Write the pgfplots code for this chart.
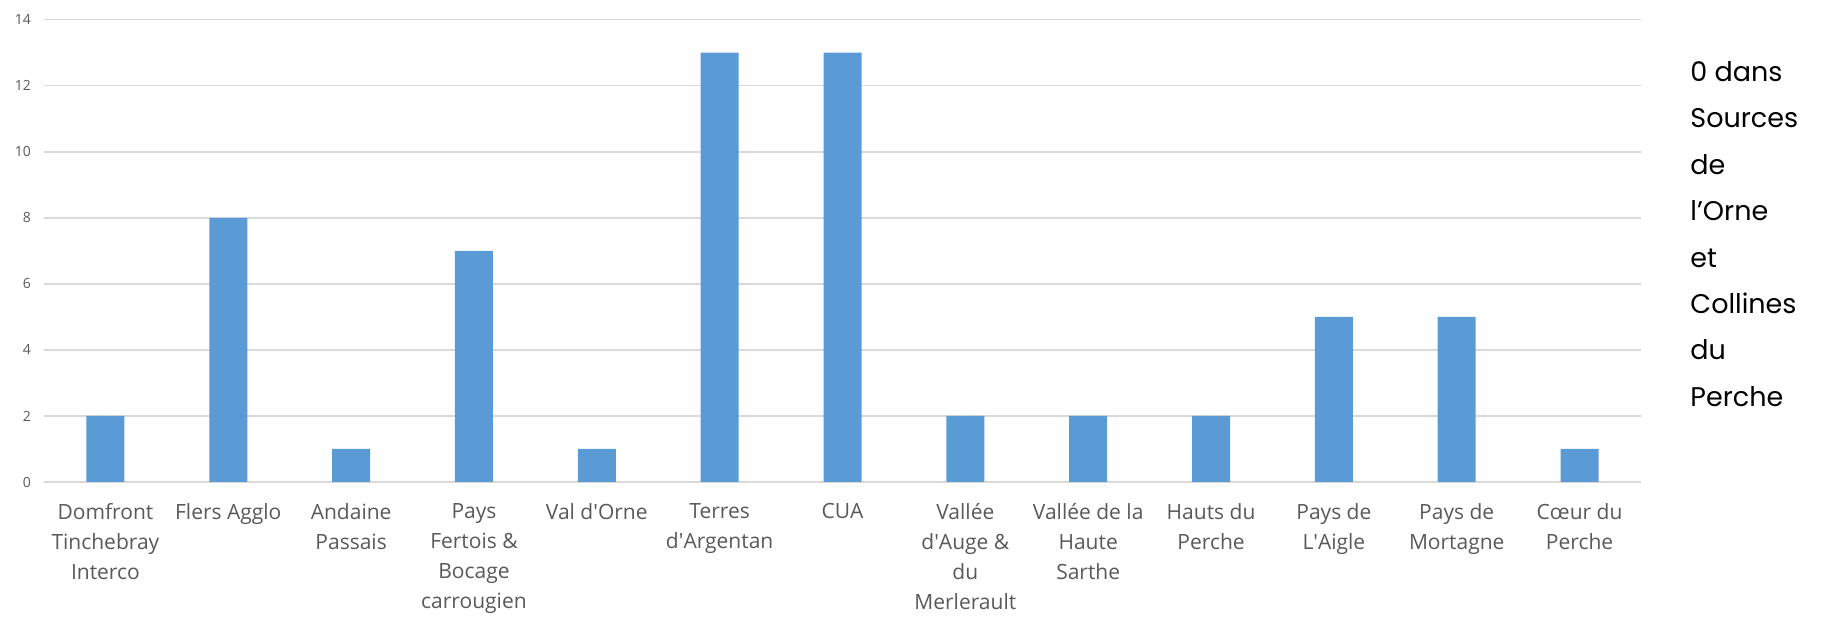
\documentclass[border=0pt]{standalone}
\usepackage{fontspec}
\setmainfont{Open Sans}
\newfontfamily\geo{Poppins}
\usepackage{pgfplots}
\pgfplotsset{compat=1.18}
\definecolor{barblue}{HTML}{5B9BD5}
\definecolor{gridgray}{HTML}{D9D9D9}
\definecolor{txtgray}{HTML}{595959}
\newcommand{\q}{\textquotesingle}
\begin{document}
\begin{tikzpicture}
\path[use as bounding box] (0,0) rectangle (910.5pt,310.5pt);
\begin{axis}[
  at={(22pt,69.5pt)}, anchor=south west,
  scale only axis, width=798.5pt, height=231.2pt,
  xmin=-0.5, xmax=12.5, ymin=0, ymax=14,
  ytick={0,2,...,14},
  xtick={0,...,12},
  xticklabels={{Domfront\\Tinchebray\\Interco},{Flers Agglo},{Andaine\\Passais},{Pays\\Fertois \&\\Bocage\\carrougien},{Val d\q Orne},{Terres\\d\q Argentan},{CUA},{Vallée\\d\q Auge \&\\du\\Merlerault},{Vallée de la\\Haute\\Sarthe},{Hauts du\\Perche},{Pays de\\L\q Aigle},{Pays de\\Mortagne},{Cœur du\\Perche}},
  xticklabel style={align=center, font=\fontsize{10.5}{15}\selectfont, text=txtgray, anchor=north, yshift=-7pt},
  yticklabel style={font=\fontsize{7}{8}\selectfont, text=txtgray, xshift=-3pt},
  /pgf/number format/assume math mode=true,
  ymajorgrids, grid style={gridgray, line width=0.8pt},
  axis x line*=bottom, axis y line*=left,
  x axis line style={gridgray, line width=0.8pt},
  y axis line style={draw=none},
  tick style={draw=none},
  major tick length=0pt,
  ybar, bar width=19pt,
]
\addplot[fill=barblue, draw=none] coordinates {
(0,2) (1,8) (2,1) (3,7) (4,1) (5,13) (6,13) (7,2) (8,2) (9,2) (10,5) (11,5) (12,1)};
\end{axis}
\node[anchor=west, align=left, font=\geo\fontsize{13.5}{23.2}\selectfont, inner sep=0pt] at (845pt,193.5pt)
 {0 dans\\Sources\\de\\l’Orne\\et\\Collines\\du\\Perche};
\end{tikzpicture}
\end{document}
